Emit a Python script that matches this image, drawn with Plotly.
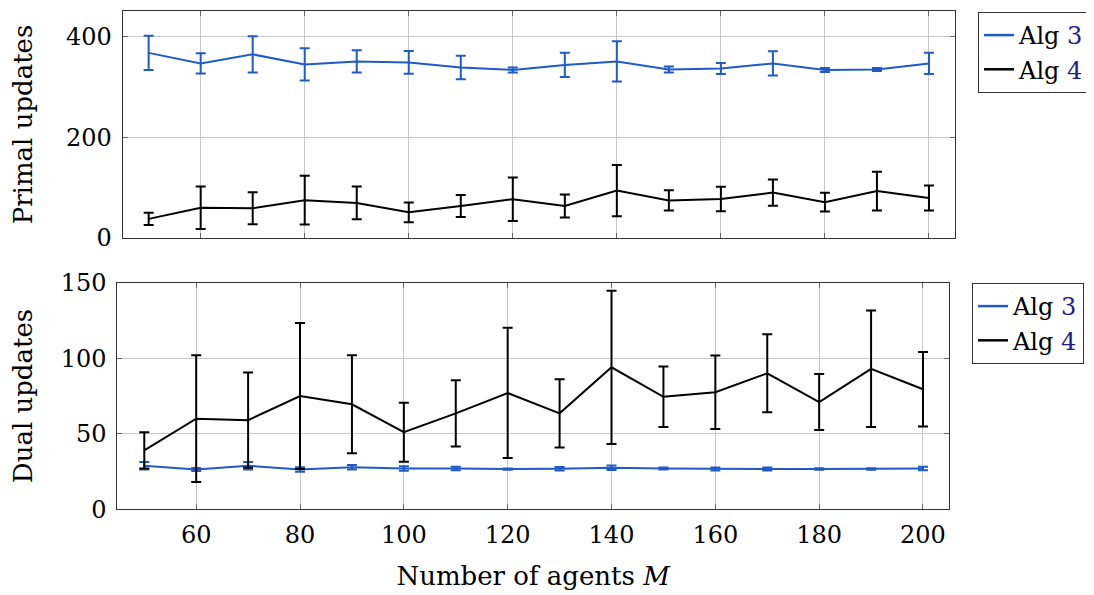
import plotly.graph_objects as go

agents = [50, 60, 70, 80, 90, 100, 110, 120, 130, 140, 150, 160, 170, 180, 190, 200]

primal_alg3 = [367, 346, 364, 344, 350, 348, 338, 333, 343, 350, 334, 336, 346, 333, 334, 346]
primal_alg3_err = [34, 20, 36, 32, 22, 22.5, 23.5, 5, 24, 40, 6, 11, 24, 4, 3, 21]
primal_alg4 = [38, 60, 59, 75, 69.5, 51, 63.5, 77, 63.5, 94, 74.5, 77.5, 90, 71, 93, 79.5]
primal_alg4_err = [12, 42, 31.5, 48.3, 32.4, 19.6, 22, 43.1, 22.6, 50.7, 20, 24.3, 25.8, 18.5, 38.6, 24.7]

dual_alg3 = [28.8, 26.4, 28.8, 26.4, 27.9, 27, 27, 26.6, 26.8, 27.5, 27, 26.6, 26.6, 26.6, 26.6, 27]
dual_alg3_err = [2.5, 1, 2.5, 1.5, 1.5, 1.5, 1.2, 0.4, 1.2, 1.5, 0.6, 1, 1, 0.5, 0.5, 1.2]
dual_alg4 = [39, 60, 59, 75, 69.5, 51, 63.5, 77, 63.5, 94, 74.5, 77.5, 90, 71, 93, 79.5]
dual_alg4_err = [12, 42, 31.5, 48.3, 32.4, 19.6, 22, 43.1, 22.6, 50.7, 20, 24.3, 25.8, 18.5, 38.6, 24.7]

series_names = ["Alg <span style='color:#1c1c8c'>3</span>", "Alg <span style='color:#1c1c8c'>4</span>"]
BLUE = "#1f5bc6"
BLACK = "#000000"
FONT = "DejaVu Serif"
FS = 24
FS_TITLE = 26

fig = go.Figure()

def add(x, y, err, color, xa, ya):
    fig.add_trace(go.Scatter(
        x=x, y=y, mode="lines", xaxis=xa, yaxis=ya, showlegend=False,
        line=dict(color=color, width=2),
        error_y=dict(type="data", array=err, visible=True, color=color, thickness=2, width=5),
        hoverinfo="x+y"))

add(agents, primal_alg3, primal_alg3_err, BLUE, "x", "y")
add(agents, primal_alg4, primal_alg4_err, BLACK, "x", "y")
add(agents, dual_alg3, dual_alg3_err, BLUE, "x2", "y2")
add(agents, dual_alg4, dual_alg4_err, BLACK, "x2", "y2")

# legend entries
for lg, xa, ya in [("legend", "x", "y"), ("legend2", "x2", "y2")]:
    for name, color in zip(series_names, [BLUE, BLACK]):
        fig.add_trace(go.Scatter(x=[None], y=[None], mode="lines", name=name,
                                 line=dict(color=color, width=2.5),
                                 xaxis=xa, yaxis=ya, legend=lg, showlegend=True))

axis_common = dict(
    showline=True, linecolor="#333333", linewidth=1, mirror="ticks",
    showgrid=True, gridcolor="#c8c8c8", gridwidth=1,
    ticks="inside", ticklen=5, tickcolor="#666666",
    zeroline=False, automargin=False,
    tickfont=dict(family=FONT, size=FS, color="#000"),
)

fig.update_layout(
    width=1094, height=595,
    margin=dict(l=0, r=0, t=0, b=0, autoexpand=False),
    paper_bgcolor="white", plot_bgcolor="white",
    font=dict(family=FONT, size=FS, color="#000"),
    xaxis=dict(domain=[0.1048, 0.8656], anchor="y", range=[45, 205],
               tickvals=[60, 80, 100, 120, 140, 160, 180, 200], showticklabels=False,
               **axis_common),
    yaxis=dict(domain=[0.6134, 0.995], anchor="x", range=[0, 450],
               tickvals=[0, 200, 400], ticklabelstandoff=5,
               title=dict(text="Primal updates", standoff=26, font=dict(family=FONT, size=FS_TITLE)),
               **axis_common),
    xaxis2=dict(domain=[0.0999, 0.8601], anchor="y2", range=[44.8, 205],
                tickvals=[60, 80, 100, 120, 140, 160, 180, 200], ticklabelstandoff=4,
                title=dict(text="Number of agents <i>M</i>", standoff=18, font=dict(family=FONT, size=FS_TITLE)),
                **axis_common),
    yaxis2=dict(domain=[0.1575, 0.5383], anchor="x2", range=[0, 150],
                tickvals=[0, 50, 100, 150], ticklabelstandoff=5,
                title=dict(text="Dual updates", standoff=26, font=dict(family=FONT, size=FS_TITLE)),
                **axis_common),
    legend=dict(x=0.8867, y=0.9933, xanchor="left", yanchor="top",
                bordercolor="#333333", borderwidth=1, bgcolor="white",
                font=dict(family=FONT, size=FS), tracegroupgap=0),
    legend2=dict(x=0.8812, y=0.5378, xanchor="left", yanchor="top",
                 bordercolor="#333333", borderwidth=1, bgcolor="white",
                 font=dict(family=FONT, size=FS), tracegroupgap=0),
)

fig.write_html("out.html")
